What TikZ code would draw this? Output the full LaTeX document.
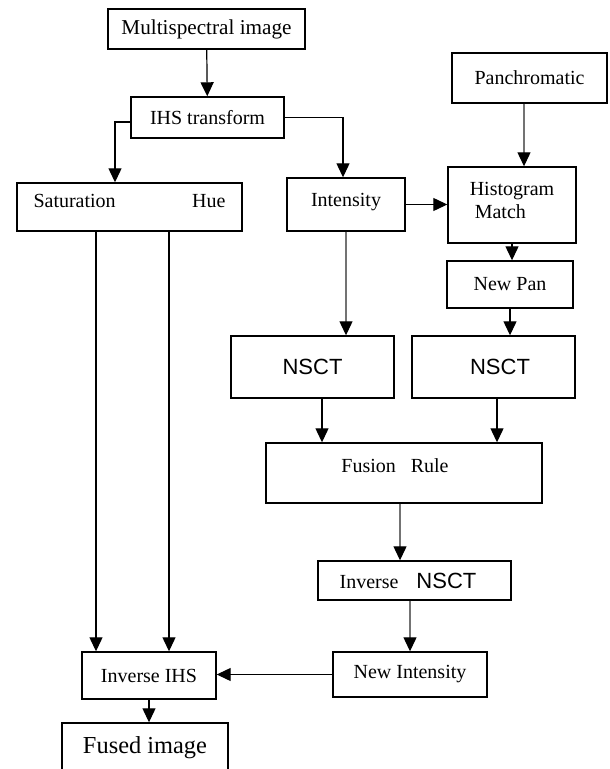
\documentclass[tikz,border=0pt]{standalone}
\usepackage{fontspec}
\setmainfont{Liberation Serif}
\newfontfamily\nsctfont{Liberation Sans}
\usetikzlibrary{arrows.meta}
\tikzset{
  blk/.style={rectangle, draw=black, line width=0.7pt, align=center, inner sep=2pt,
              font=\fontsize{10}{11.5}\selectfont},
  lift/.style={text depth=#1},
  arr/.style={-{Triangle[length=7pt, width=6.5pt, color=black]}, line width=0.6pt, draw=black},
  arrg/.style={arr, draw=black!55},
}

\begin{document}
\begin{tikzpicture}[x=0.5pt, y=-0.5pt]
  \useasboundingbox (0,0) rectangle (609,769);
  % left branch
  \node[blk, minimum width=98.5pt, minimum height=20pt, font=\fontsize{10.6}{12}\selectfont] (ms) at (206.5,29) {Multispectral image};
  \node[blk, minimum width=76.5pt, minimum height=20.5pt] (ihs) at (207.5,117.5) {IHS transform};
  \node[blk, minimum width=112.5pt, minimum height=24pt, text width=96pt, lift=6pt] (sh) at (129.5,207) {Saturation\hfill Hue};
  \node[blk, minimum width=59pt, minimum height=26.5pt, lift=4.7pt] (int) at (346,204.5) {Intensity};
  % pan branch
  \node[blk, minimum width=77.5pt, minimum height=25pt] (pan) at (529.5,78) {Panchromatic};
  \node[blk, minimum width=64pt, minimum height=38pt, align=left, lift=4.5pt] (hist) at (512,205) {Histogram\\\kern2.5pt Match};
  \node[blk, minimum width=63pt, minimum height=23.5pt] (np) at (510,284.5) {New Pan};
  % transforms
  \node[blk, minimum width=81.5pt, minimum height=31pt, font=\nsctfont\fontsize{11}{12}\selectfont] (nsl) at (312.5,367) {NSCT};
  \node[blk, minimum width=81.5pt, minimum height=31pt, font=\nsctfont\fontsize{11}{12}\selectfont] (nsr) at (493.5,367) {\kern6.5pt NSCT};
  \node[blk, minimum width=138pt, minimum height=30pt, lift=7pt] (fus) at (404,473) {Fusion\ \ \ Rule\kern9pt};
  \node[blk, minimum width=96.5pt, minimum height=19.5pt] (invn) at (414.5,580.5) {Inverse\hspace{9pt}{\nsctfont\fontsize{11}{12}\selectfont NSCT}\kern6.5pt};
  \node[blk, minimum width=77pt, minimum height=22.5pt] (nint) at (410,674.5) {New Intensity};
  \node[blk, minimum width=67pt, minimum height=23.5pt] (iihs) at (149,675.5) {Inverse IHS};
  \node[blk, minimum width=83pt, minimum height=25pt, font=\fontsize{12.2}{14}\selectfont] (out) at (145,748) {Fused image};

  \draw[arr] (ms) -- (ihs);
  \draw[arr] ([yshift=-2.25pt]ihs.west) -| ([xshift=-7.25pt]sh.north);
  \draw[arr] (ihs.east) -| ([xshift=-1.5pt]int.north);
  \draw[arr] (int.east) -- (int.east -| hist.west);
  \draw[arrg] ([xshift=-2.75pt]pan.south) -- ([xshift=-2.75pt]pan.south |- hist.north);
  \draw[arr] (hist.south) -- (hist.south |- np.north);
  \draw[arr] (np.south) -- (np.south |- nsr.north);
  \draw[arrg] (int.south) -- (int.south |- nsl.north);
  \draw[arr] ([xshift=4.75pt]nsl.south) -- ([xshift=4.75pt]nsl.south |- fus.north);
  \draw[arr] ([xshift=1.75pt]nsr.south) -- ([xshift=1.75pt]nsr.south |- fus.north);
  \draw[arrg] ([xshift=-2pt]fus.south) -- ([xshift=-2pt]fus.south |- invn.north);
  \draw[arrg] (invn.south -| nint.north) -- (nint.north);
  \draw[arr] (nint.west) -- (nint.west -| iihs.east);
  \draw[arr] ([xshift=-16.75pt]sh.south) -- ([xshift=-16.75pt]sh.south |- iihs.north);
  \draw[arr] ([xshift=19.75pt]sh.south) -- ([xshift=19.75pt]sh.south |- iihs.north);
  \draw[arr] (iihs.south) -- (iihs.south |- out.north);
\end{tikzpicture}
\end{document}
